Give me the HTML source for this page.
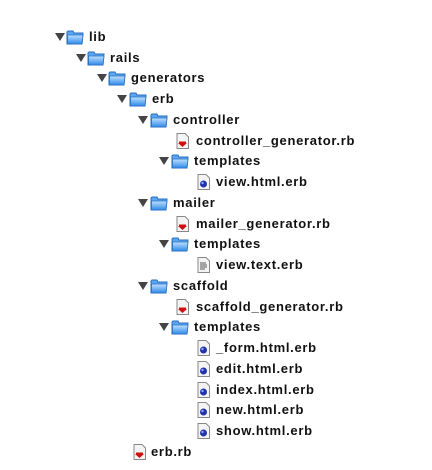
<!DOCTYPE html>
<html><head><meta charset="utf-8"><style>
body{margin:0;width:432px;height:470px;background:#fff;position:relative;overflow:hidden;font-family:"Liberation Sans",sans-serif;}
.r{position:absolute;height:18px;line-height:18px;font-size:13px;letter-spacing:0.7px;font-weight:bold;color:#111;white-space:nowrap}
.r svg{position:absolute;top:1px}
.r span{position:absolute;top:0}
</style></head><body>
<svg width="0" height="0" style="position:absolute">
<defs>
<linearGradient id="fg" x1="0" y1="0" x2="0" y2="1"><stop offset="0" stop-color="#bfe0ff"/><stop offset="1" stop-color="#2f8ae8"/></linearGradient>
<symbol id="tri" viewBox="0 0 10 10"><path d="M0 1 L10 1 L5 9 Z" fill="#444"/></symbol>
<symbol id="fold" viewBox="0 0 18 16"><path d="M1 3 L1 15 L16 15 L17 4 L8 4 L7 2 L2 2 Z" fill="#5aa6f0" stroke="#2a6fc0" stroke-width="1"/><path d="M1.5 6 L17 6 L16 15 L1.5 15 Z" fill="url(#fg)" stroke="#2a6fc0" stroke-width="0.8"/></symbol>
<symbol id="rb" viewBox="0 0 13 16"><path d="M1 0.5 L9 0.5 L12.5 4 L12.5 15.5 L1 15.5 Z" fill="#f4f4f4" stroke="#888"/><path d="M2 10 L11 10 L6.5 14 Z" fill="#d01010"/><rect x="3" y="8.5" width="7" height="1.5" fill="#d01010"/></symbol>
<symbol id="ht" viewBox="0 0 13 16"><path d="M1 0.5 L9 0.5 L12.5 4 L12.5 15.5 L1 15.5 Z" fill="#f4f4f4" stroke="#888"/><circle cx="6.5" cy="10" r="3.5" fill="#2233aa"/><circle cx="5.5" cy="9" r="1.2" fill="#8fa8ff"/></symbol>
<symbol id="tx" viewBox="0 0 13 16"><path d="M1 0.5 L9 0.5 L12.5 4 L12.5 15.5 L1 15.5 Z" fill="#f4f4f4" stroke="#888"/><path d="M3 6h6M3 8h7M3 10h7M3 12h5" stroke="#555" stroke-width="1"/></symbol>
</defs></svg>

<div class="r" style="top:28px;left:0;width:432px"><svg style="left:55px;top:4px" width="10" height="10"><use href="#tri"/></svg><svg style="left:66px" width="18" height="16"><use href="#fold"/></svg><span style="left:89px">lib</span></div>
<div class="r" style="top:49px;left:0;width:432px"><svg style="left:76px;top:4px" width="10" height="10"><use href="#tri"/></svg><svg style="left:87px" width="18" height="16"><use href="#fold"/></svg><span style="left:110px">rails</span></div>
<div class="r" style="top:69px;left:0;width:432px"><svg style="left:97px;top:4px" width="10" height="10"><use href="#tri"/></svg><svg style="left:108px" width="18" height="16"><use href="#fold"/></svg><span style="left:131px">generators</span></div>
<div class="r" style="top:90px;left:0;width:432px"><svg style="left:117px;top:4px" width="10" height="10"><use href="#tri"/></svg><svg style="left:129px" width="18" height="16"><use href="#fold"/></svg><span style="left:152px">erb</span></div>
<div class="r" style="top:111px;left:0;width:432px"><svg style="left:138px;top:4px" width="10" height="10"><use href="#tri"/></svg><svg style="left:150px" width="18" height="16"><use href="#fold"/></svg><span style="left:173px">controller</span></div>
<div class="r" style="top:132px;left:0;width:432px"><svg style="left:176px" width="13" height="16"><use href="#rb"/></svg><span style="left:196px">controller_generator.rb</span></div>
<div class="r" style="top:152px;left:0;width:432px"><svg style="left:159px;top:4px" width="10" height="10"><use href="#tri"/></svg><svg style="left:171px" width="18" height="16"><use href="#fold"/></svg><span style="left:194px">templates</span></div>
<div class="r" style="top:173px;left:0;width:432px"><svg style="left:197px" width="13" height="16"><use href="#ht"/></svg><span style="left:216px">view.html.erb</span></div>
<div class="r" style="top:194px;left:0;width:432px"><svg style="left:138px;top:4px" width="10" height="10"><use href="#tri"/></svg><svg style="left:150px" width="18" height="16"><use href="#fold"/></svg><span style="left:173px">mailer</span></div>
<div class="r" style="top:215px;left:0;width:432px"><svg style="left:176px" width="13" height="16"><use href="#rb"/></svg><span style="left:196px">mailer_generator.rb</span></div>
<div class="r" style="top:235px;left:0;width:432px"><svg style="left:159px;top:4px" width="10" height="10"><use href="#tri"/></svg><svg style="left:171px" width="18" height="16"><use href="#fold"/></svg><span style="left:194px">templates</span></div>
<div class="r" style="top:256px;left:0;width:432px"><svg style="left:197px" width="13" height="16"><use href="#tx"/></svg><span style="left:216px">view.text.erb</span></div>
<div class="r" style="top:277px;left:0;width:432px"><svg style="left:138px;top:4px" width="10" height="10"><use href="#tri"/></svg><svg style="left:150px" width="18" height="16"><use href="#fold"/></svg><span style="left:173px">scaffold</span></div>
<div class="r" style="top:298px;left:0;width:432px"><svg style="left:176px" width="13" height="16"><use href="#rb"/></svg><span style="left:196px">scaffold_generator.rb</span></div>
<div class="r" style="top:318px;left:0;width:432px"><svg style="left:159px;top:4px" width="10" height="10"><use href="#tri"/></svg><svg style="left:171px" width="18" height="16"><use href="#fold"/></svg><span style="left:194px">templates</span></div>
<div class="r" style="top:339px;left:0;width:432px"><svg style="left:197px" width="13" height="16"><use href="#ht"/></svg><span style="left:216px">_form.html.erb</span></div>
<div class="r" style="top:360px;left:0;width:432px"><svg style="left:197px" width="13" height="16"><use href="#ht"/></svg><span style="left:216px">edit.html.erb</span></div>
<div class="r" style="top:381px;left:0;width:432px"><svg style="left:197px" width="13" height="16"><use href="#ht"/></svg><span style="left:216px">index.html.erb</span></div>
<div class="r" style="top:401px;left:0;width:432px"><svg style="left:197px" width="13" height="16"><use href="#ht"/></svg><span style="left:216px">new.html.erb</span></div>
<div class="r" style="top:422px;left:0;width:432px"><svg style="left:197px" width="13" height="16"><use href="#ht"/></svg><span style="left:216px">show.html.erb</span></div>
<div class="r" style="top:443px;left:0;width:432px"><svg style="left:133px" width="13" height="16"><use href="#rb"/></svg><span style="left:151px">erb.rb</span></div>
</body></html>
